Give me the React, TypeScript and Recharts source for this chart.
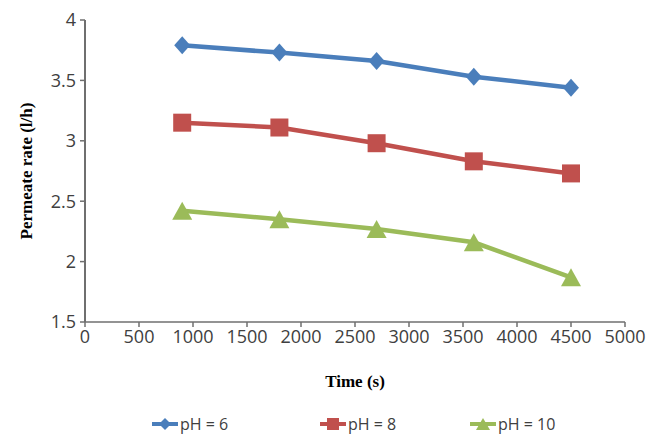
import React from "react";
import {
  LineChart,
  Line,
  XAxis,
  YAxis,
  Legend,
} from "recharts";

// time points (s)
const times = [900, 1800, 2700, 3600, 4500];
// permeate rate (l/h) per pH
const ph6 = [3.79, 3.73, 3.66, 3.53, 3.44];
const ph8 = [3.15, 3.11, 2.98, 2.83, 2.73];
const ph10 = [2.42, 2.35, 2.27, 2.16, 1.87];

const xTicks = [0, 500, 1000, 1500, 2000, 2500, 3000, 3500, 4000, 4500, 5000];
const yTicks = [1.5, 2, 2.5, 3, 3.5, 4];

const data = times.map((t, i) => ({
  time: t,
  ph6: ph6[i],
  ph8: ph8[i],
  ph10: ph10[i],
}));

const BLUE = "#4A7EBB";
const RED = "#C0504D";
const GREEN = "#9BBB59";
const TICK_FONT = "'Open Sans', 'Liberation Sans', sans-serif";
const TITLE_FONT = "'Liberation Serif', 'DejaVu Serif', serif";

const Diamond = ({ cx, cy, fill, w = 8, h = 9 }: any) => (
  <polygon
    points={`${cx},${cy - h} ${cx + w},${cy} ${cx},${cy + h} ${cx - w},${cy}`}
    fill={fill}
  />
);

const Square = ({ cx, cy, fill, s = 9 }: any) => (
  <rect x={cx - s} y={cy - s} width={s * 2} height={s * 2} fill={fill} />
);

const Triangle = ({ cx, cy, fill, w = 10, h = 9 }: any) => (
  <polygon
    points={`${cx},${cy - h} ${cx + w},${cy + h} ${cx - w},${cy + h}`}
    fill={fill}
  />
);

const series = [
  { key: "ph6", name: "pH = 6", color: BLUE, Shape: Diamond },
  { key: "ph8", name: "pH = 8", color: RED, Shape: Square },
  { key: "ph10", name: "pH = 10", color: GREEN, Shape: Triangle },
];

// legend entries, spaced like the Excel original
const legendLeft = [152, 320, 470];

const renderLegend = () => (
  <div style={{ position: "relative", width: 651, height: 26 }}>
    {series.map((s, i) => (
      <div
        key={s.key}
        style={{
          position: "absolute",
          left: legendLeft[i],
          top: 3,
          display: "flex",
          alignItems: "center",
          height: 26,
        }}
      >
        <svg width={26} height={14}>
          <line x1={0} y1={7} x2={26} y2={7} stroke={s.color} strokeWidth={4} />
          {s.key === "ph6" && <Diamond cx={13} cy={7} fill={s.color} w={6} h={6} />}
          {s.key === "ph8" && <Square cx={13} cy={7} fill={s.color} s={6} />}
          {s.key === "ph10" && <Triangle cx={13} cy={7} fill={s.color} w={7} h={6} />}
        </svg>
        <span
          style={{
            marginLeft: 2,
            fontFamily: TICK_FONT,
            fontSize: 16,
            color: "#404040",
          }}
        >
          {s.name}
        </span>
      </div>
    ))}
  </div>
);

export default function App() {
  return (
    <div
      style={{
        position: "absolute",
        left: 0,
        top: 0,
        width: 651,
        height: 434,
        background: "#fff",
      }}
    >
      <LineChart
        width={651}
        height={434}
        data={data}
        margin={{ top: 20, right: 26, left: 0, bottom: 0 }}
      >
        <XAxis
          dataKey="time"
          type="number"
          domain={[0, 5000]}
          ticks={xTicks}
          interval={0}
          height={86}
          axisLine={{ stroke: "#6F6F6F", strokeWidth: 1.5 }}
          tickLine={{ stroke: "#6F6F6F", strokeWidth: 1.5 }}
          tickSize={5}
          tickMargin={3}
          tick={{ fill: "#404040", fontSize: 18, fontFamily: TICK_FONT }}
          label={{
            value: "Time (s)",
            position: "insideBottom",
            offset: 21,
            style: {
              fontFamily: TITLE_FONT,
              fontWeight: "bold",
              fontSize: 17,
              fill: "#000",
            },
          }}
        />
        <YAxis
          type="number"
          domain={[1.5, 4]}
          ticks={yTicks}
          interval={0}
          width={85}
          axisLine={{ stroke: "#6F6F6F", strokeWidth: 2 }}
          tickLine={{ stroke: "#6F6F6F", strokeWidth: 1.5 }}
          tickSize={5}
          tickMargin={4}
          tick={{ fill: "#404040", fontSize: 18, fontFamily: TICK_FONT }}
          label={{
            value: "Permeate rate (l/h)",
            angle: -90,
            position: "insideLeft",
            offset: 26,
            style: {
              textAnchor: "middle",
              fontFamily: TITLE_FONT,
              fontWeight: "bold",
              fontSize: 17,
              fill: "#000",
            },
          }}
        />
        <Legend
          verticalAlign="bottom"
          content={renderLegend}
          wrapperStyle={{ left: 0, width: 651, height: 26, bottom: 0 }}
        />
        {series.map((s) => (
          <Line
            key={s.key}
            dataKey={s.key}
            name={s.name}
            stroke={s.color}
            strokeWidth={4.5}
            isAnimationActive={false}
            dot={(p: any) => <s.Shape key={`${s.key}-${p.index}`} cx={p.cx} cy={p.cy} fill={s.color} />}
            activeDot={false}
          />
        ))}
      </LineChart>
    </div>
  );
}
